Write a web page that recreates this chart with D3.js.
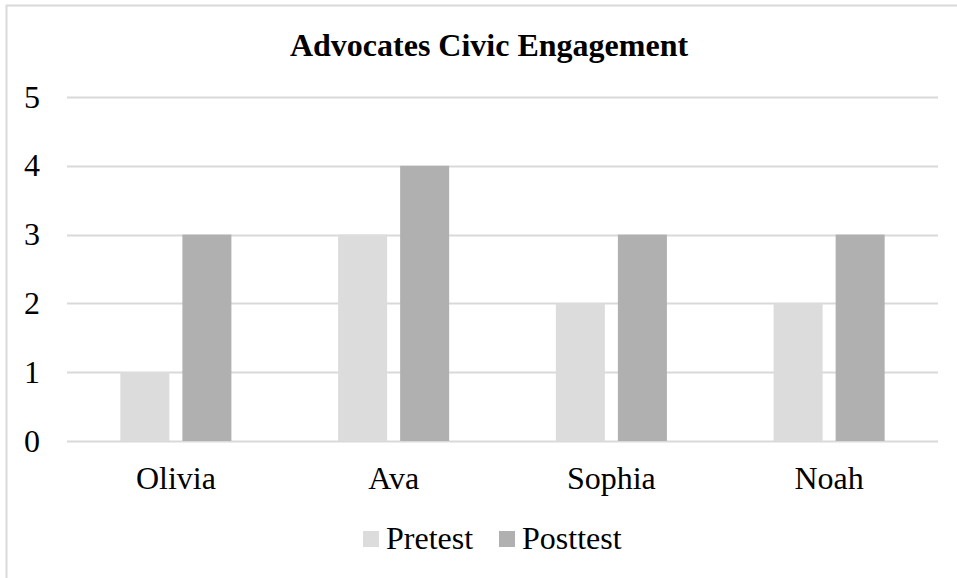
<!DOCTYPE html>
<html>
<head>
<meta charset="utf-8">
<script src="https://cdn.jsdelivr.net/npm/d3@7"></script>
<style>
  body { margin: 0; background: #fff; }
  text { font-family: "Liberation Serif", "Times New Roman", serif; fill: #000; }
</style>
</head>
<body>
<div class="chart"></div>
<script>
const categories = ["Olivia", "Ava", "Sophia", "Noah"];
const seriesNames = ["Pretest", "Posttest"];
const pretest = [1, 3, 2, 2];
const posttest = [3, 4, 3, 3];
const yTicks = [0, 1, 2, 3, 4, 5];

const width = 957, height = 578;
const margin = {top: 97, right: 19, bottom: 137, left: 67};
const colors = {Pretest: "#dcdcdc", Posttest: "#b0b0b0"};
const fontSize = 32;

const data = categories.map((c, i) => ({label: c, Pretest: pretest[i], Posttest: posttest[i]}));

const svg = d3.select(".chart")
  .append("svg")
    .attr("width", width)
    .attr("height", height);

// outer chart border (right / bottom cut off)
svg.append("path")
  .attr("d", `M6.5,${height}V5.5H${width}`)
  .attr("fill", "none")
  .attr("stroke", "#d9d9d9")
  .attr("stroke-width", 2);

const x = d3.scaleBand()
  .domain(categories)
  .range([margin.left, width - margin.right]);

const xInner = d3.scaleBand()
  .domain(seriesNames)
  .range([0, x.bandwidth()])
  .paddingInner(0.21)
  .paddingOuter(0.86);

const y = d3.scaleLinear()
  .domain([0, 5])
  .range([height - margin.bottom, margin.top]);

// gridlines
svg.append("g")
  .selectAll("line")
  .data(yTicks)
  .join("line")
    .attr("x1", margin.left)
    .attr("x2", width - margin.right)
    .attr("y1", d => Math.round(y(d)) + 0.5)
    .attr("y2", d => Math.round(y(d)) + 0.5)
    .attr("stroke", "#d9d9d9")
    .attr("stroke-width", 2);

// y labels
svg.append("g")
  .selectAll("text")
  .data(yTicks)
  .join("text")
    .attr("x", 24)
    .attr("y", d => y(d))
    .attr("dy", "0.33em")
    .attr("font-size", fontSize)
    .text(d => d);

// bars
svg.append("g")
  .selectAll("g")
  .data(data)
  .join("g")
    .attr("transform", d => `translate(${x(d.label)},0)`)
  .selectAll("rect")
  .data(d => seriesNames.map(k => ({key: k, value: d[k]})))
  .join("rect")
    .attr("x", d => xInner(d.key))
    .attr("y", d => y(d.value))
    .attr("width", xInner.bandwidth())
    .attr("height", d => y(0) - y(d.value))
    .attr("fill", d => colors[d.key]);

// category labels
svg.append("g")
  .selectAll("text")
  .data(categories)
  .join("text")
    .attr("x", d => x(d) + x.bandwidth() / 2)
    .attr("y", 489)
    .attr("text-anchor", "middle")
    .attr("font-size", fontSize)
    .text(d => d);

// title
svg.append("text")
  .attr("x", 489)
  .attr("y", 56)
  .attr("text-anchor", "middle")
  .attr("font-size", fontSize)
  .attr("font-weight", "bold")
  .text("Advocates Civic Engagement");

// legend
const legendX = [363, 499];
const legend = svg.append("g")
  .selectAll("g")
  .data(seriesNames)
  .join("g")
    .attr("transform", (d, i) => `translate(${legendX[i]},531)`);

legend.append("rect")
  .attr("width", 16)
  .attr("height", 16)
  .attr("fill", d => colors[d]);

legend.append("text")
  .attr("x", 23)
  .attr("y", 18)
  .attr("font-size", fontSize)
  .text(d => d);
</script>
</body>
</html>
